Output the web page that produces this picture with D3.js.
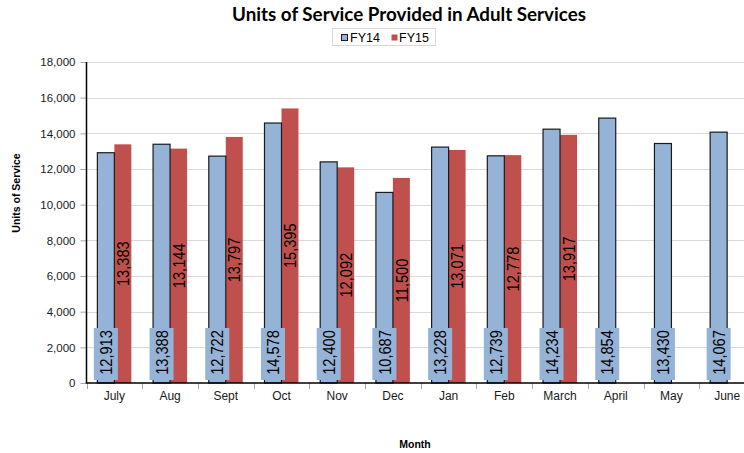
<!DOCTYPE html>
<html><head><meta charset="utf-8">
<script src="https://cdn.jsdelivr.net/npm/d3@7"></script>
<style>body{margin:0;background:#fff}svg{display:block}</style>
</head><body>
<svg id="c" width="744" height="453"></svg>
<script>
const months = ["July","Aug","Sept","Oct","Nov","Dec","Jan","Feb","March","April","May","June"];
const fy14 = [12913,13388,12722,14578,12400,10687,13228,12739,14234,14854,13430,14067];
const fy15 = [13383,13144,13797,15395,12092,11500,13071,12778,13917,null,null,null];
const seriesNames = ["FY14","FY15"];
const yTicks = [0,2000,4000,6000,8000,10000,12000,14000,16000,18000];
const colors = {FY14:"#95B3D7", FY15:"#C0504D"};

const svg = d3.select("#c");
const L = 86.5, R = 755, T = 62, B = 383;
const x = d3.scaleBand().domain(months).range([L, R]).paddingInner(0).paddingOuter(0);
const y = d3.scaleLinear().domain([0,18000]).range([B, T]);
const bw = x.bandwidth();
const barW = bw*0.305;
const fmt = d3.format(",");

// gridlines
svg.append("g").selectAll("line").data(yTicks.filter(d=>d>0)).join("line")
  .attr("x1", L).attr("x2", 744).attr("y1", d=>Math.round(y(d))+0.5).attr("y2", d=>Math.round(y(d))+0.5)
  .attr("stroke","#d9d9d9").attr("stroke-width",1);

// y axis
const yAx = svg.append("g").attr("transform",`translate(${L},0)`)
  .call(d3.axisLeft(y).tickValues(yTicks).tickFormat(fmt).tickSize(6).tickPadding(5));
yAx.select(".domain").remove();
yAx.selectAll(".tick line").attr("stroke","#a6a6a6");
yAx.selectAll("text").attr("font-family","Arial, 'Liberation Sans', sans-serif").attr("font-size","11.5px").attr("fill","#1a1a1a");

// x axis ticks at boundaries
const bounds = months.map(m=>x(m)).concat([R]);
svg.append("g").selectAll("line").data(bounds).join("line")
  .attr("x1", d=>Math.round(d)+0.5).attr("x2", d=>Math.round(d)+0.5).attr("y1", B).attr("y2", B+6)
  .attr("stroke","#a6a6a6");
svg.append("g").selectAll("text").data(months).join("text")
  .attr("x", d=>x(d)+bw/2).attr("y", 400)
  .attr("text-anchor","middle").attr("font-family","Arial, 'Liberation Sans', sans-serif")
  .attr("font-size","12px").attr("fill","#1a1a1a").text(d=>d);

const g14x = m => x(m) + bw/2 - barW;
const g15x = m => x(m) + bw/2;

// FY15 bars
svg.append("g").selectAll("rect").data(months.map((m,i)=>({m,v:fy15[i]})).filter(d=>d.v!=null)).join("rect")
  .attr("x", d=>g15x(d.m)).attr("width", barW).attr("y", d=>y(d.v)).attr("height", d=>B-y(d.v))
  .attr("fill", colors.FY15);

// FY14 bars
svg.append("g").selectAll("rect").data(months.map((m,i)=>({m,v:fy14[i]}))).join("rect")
  .attr("x", d=>g14x(d.m)).attr("width", barW).attr("y", d=>y(d.v)).attr("height", d=>B-y(d.v))
  .attr("fill", colors.FY14).attr("stroke","#1a1a1a").attr("stroke-width",1.2);

// axis lines
svg.append("line").attr("x1",L).attr("x2",L).attr("y1",T).attr("y2",B).attr("stroke","#000").attr("stroke-width",1.5);
svg.append("line").attr("x1",L-0.75).attr("x2",744).attr("y1",B).attr("y2",B).attr("stroke","#000").attr("stroke-width",1.5);

function squeeze(sel){
  sel.each(function(){
    const w = this.getComputedTextLength();
    d3.select(this).attr("textLength", w*0.86).attr("lengthAdjust","spacingAndGlyphs");
  });
}

// FY14 labels with box at base
const lab14 = svg.append("g").selectAll("g").data(months.map((m,i)=>({m,v:fy14[i]}))).join("g")
  .attr("transform", d=>`translate(${g14x(d.m)+barW/2},354)`);
lab14.append("rect").attr("x",-12).attr("y",-26).attr("width",24).attr("height",52).attr("fill",colors.FY14);
lab14.append("text").attr("transform","translate(0,-1.5) rotate(-90)").attr("text-anchor","middle").attr("dy","0.36em")
  .attr("font-family","Arial, 'Liberation Sans', sans-serif").attr("font-size","17px").attr("fill","#000")
  .text(d=>fmt(d.v)).call(squeeze);

// FY15 labels centered
svg.append("g").selectAll("text").data(months.map((m,i)=>({m,v:fy15[i]})).filter(d=>d.v!=null)).join("text")
  .attr("transform", d=>`translate(${g15x(d.m)+barW/2},${(y(d.v)+B)/2}) rotate(-90)`)
  .attr("text-anchor","middle").attr("dy","0.36em")
  .attr("font-family","Arial, 'Liberation Sans', sans-serif").attr("font-size","17px").attr("fill","#000")
  .text(d=>fmt(d.v)).call(squeeze);

// title
svg.append("text").attr("x",409).attr("y",21).attr("text-anchor","middle")
  .attr("font-family","Lato, 'Open Sans', sans-serif").attr("font-weight","bold").attr("font-size","18px")
  .attr("textLength",354).attr("lengthAdjust","spacingAndGlyphs").attr("fill","#000")
  .text("Units of Service Provided in Adult Services");

// legend
const lg = svg.append("g");
lg.append("rect").attr("x",332.5).attr("y",28.5).attr("width",103).attr("height",17).attr("fill","#fff").attr("stroke","#d9d9d9");
const legItems = [{n:"FY14",mx:341,tx:350},{n:"FY15",mx:391,tx:399}];
legItems.forEach(it=>{
  lg.append("rect").attr("x",it.mx+0.5).attr("y",34.5).attr("width",6).attr("height",6)
    .attr("fill",colors[it.n]).attr("stroke", it.n==="FY14"?"#1a1a1a":"none").attr("stroke-width",1);
  lg.append("text").attr("x",it.tx).attr("y",41.5).attr("font-family","Arial, 'Liberation Sans', sans-serif")
    .attr("font-size","12.5px").attr("fill","#000").text(it.n);
});

// axis titles
svg.append("text").attr("transform","translate(20,193) rotate(-90)").attr("text-anchor","middle")
  .attr("font-family","Arial, 'Liberation Sans', sans-serif").attr("font-weight","bold").attr("font-size","10.5px")
  .attr("fill","#000").text("Units of Service");
svg.append("text").attr("x",415).attr("y",448).attr("text-anchor","middle")
  .attr("font-family","Arial, 'Liberation Sans', sans-serif").attr("font-weight","bold").attr("font-size","10.5px")
  .attr("fill","#000").text("Month");
</script>
</body></html>
